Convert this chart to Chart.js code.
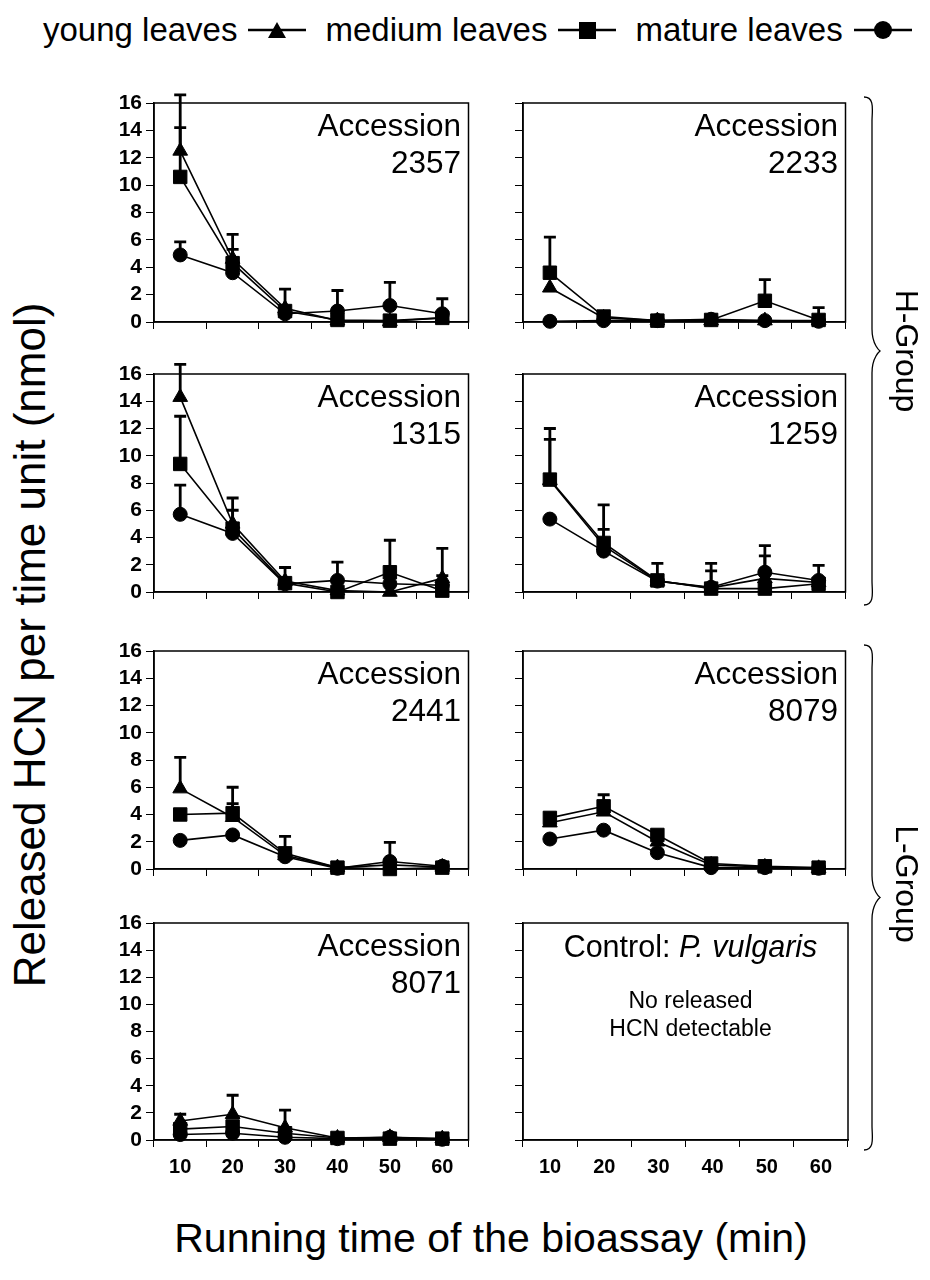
<!DOCTYPE html>
<html><head><meta charset="utf-8">
<script src="https://cdn.jsdelivr.net/npm/chart.js@4.4.0/dist/chart.umd.min.js"></script>
<style>
body{margin:0;background:#fff;}
#root{position:relative;width:930px;height:1280px;overflow:hidden;background:#fff;font-family:"Liberation Sans",Arial,sans-serif;color:#000;}
.abs{position:absolute;}
.acc{position:absolute;font-size:31.5px;text-align:right;line-height:37px;}
.legend{position:absolute;left:43px;top:10px;height:40px;font-size:33px;display:flex;align-items:center;white-space:nowrap;}
.legend svg{margin:0 19px 0 11px;}
.rot{position:absolute;white-space:nowrap;transform-origin:center center;}
</style></head>
<body><div id="root"></div>
<script>
// ---------- data ----------
const times = ['10','20','30','40','50','60'];
const yTicks = [0, 2, 4, 6, 8, 10, 12, 14, 16];

const acc2357Young  = [12.5, 4.6, 1.0, 0.1, 0.05, 0.3];
const acc2357Medium = [10.6, 4.3, 0.8, 0.15, 0.1, 0.3];
const acc2357Mature = [4.9, 3.6, 0.6, 0.8, 1.2, 0.6];
const acc2357YoungErr  = [4.1, 1.8, 0, 0, 0, 0];
const acc2357MediumErr = [3.6, 1.0, 1.6, 0, 0, 0];
const acc2357MatureErr = [0.95, 0, 0, 1.5, 1.7, 1.1];

const acc2233Young  = [2.5, 0.3, 0.1, 0.1, 0.1, 0.1];
const acc2233Medium = [3.6, 0.4, 0.1, 0.15, 1.55, 0.15];
const acc2233Mature = [0.05, 0.1, 0.1, 0.2, 0.1, 0.05];
const acc2233YoungErr  = [0, 0, 0, 0, 0, 0];
const acc2233MediumErr = [2.6, 0, 0, 0, 1.55, 0.9];
const acc2233MatureErr = [0, 0, 0, 0, 0, 0];

const acc1315Young  = [14.3, 5.0, 0.8, 0.1, 0.0, 1.0];
const acc1315Medium = [9.4, 4.65, 0.65, 0.0, 1.45, 0.1];
const acc1315Mature = [5.7, 4.3, 0.6, 0.85, 0.6, 0.5];
const acc1315YoungErr  = [2.4, 1.9, 0, 0, 0, 2.2];
const acc1315MediumErr = [3.5, 1.35, 1.15, 0, 2.35, 0];
const acc1315MatureErr = [2.15, 0, 0, 1.35, 0, 0.7];

const acc1259Young  = [8.2, 3.4, 0.8, 0.3, 1.0, 0.7];
const acc1259Medium = [8.25, 3.6, 0.85, 0.25, 0.25, 0.6];
const acc1259Mature = [5.35, 3.0, 0.8, 0.35, 1.45, 0.85];
const acc1259YoungErr  = [3.8, 1.2, 0, 1.8, 1.65, 0];
const acc1259MediumErr = [2.95, 2.8, 1.25, 0, 0, 0];
const acc1259MatureErr = [0, 0, 0, 1.2, 1.95, 1.1];

const acc2441Young  = [5.9, 3.8, 1.0, 0.1, 0.3, 0.15];
const acc2441Medium = [4.0, 4.1, 1.15, 0.1, 0.0, 0.1];
const acc2441Mature = [2.1, 2.5, 0.9, 0.05, 0.55, 0.2];
const acc2441YoungErr  = [2.3, 1.0, 0, 0, 0, 0];
const acc2441MediumErr = [0, 1.9, 1.25, 0, 0, 0];
const acc2441MatureErr = [0, 0, 0, 0, 1.4, 0];

const acc8079Young  = [3.4, 4.2, 2.0, 0.3, 0.15, 0.05];
const acc8079Medium = [3.75, 4.6, 2.5, 0.4, 0.2, 0.1];
const acc8079Mature = [2.2, 2.85, 1.2, 0.1, 0.1, 0.05];
const acc8079YoungErr  = [0, 0, 0, 0, 0, 0];
const acc8079MediumErr = [0, 0.85, 0, 0, 0, 0];
const acc8079MatureErr = [0, 0, 0, 0, 0, 0];

const acc8071Young  = [1.4, 1.9, 0.9, 0.15, 0.2, 0.1];
const acc8071Medium = [0.8, 1.0, 0.5, 0.15, 0.1, 0.1];
const acc8071Mature = [0.4, 0.5, 0.2, 0.1, 0.2, 0.05];
const acc8071YoungErr  = [0.5, 1.4, 1.3, 0, 0, 0];
const acc8071MediumErr = [0, 0, 0, 0, 0, 0];
const acc8071MatureErr = [0, 0, 0, 0, 0, 0];

const seriesNames = ['young leaves', 'medium leaves', 'mature leaves'];

// ---------- layout ----------
const root = document.getElementById('root');
const cols = [{left:154, w:317}, {left:523, w:325}];
const rows = [{top:103, h:219}, {top:374, h:218}, {top:651, h:218}, {top:923, h:217}];

const panels = [
  {r:0,c:0,label:['Accession','2357'],d:[acc2357Young,acc2357Medium,acc2357Mature],e:[acc2357YoungErr,acc2357MediumErr,acc2357MatureErr]},
  {r:0,c:1,label:['Accession','2233'],d:[acc2233Young,acc2233Medium,acc2233Mature],e:[acc2233YoungErr,acc2233MediumErr,acc2233MatureErr]},
  {r:1,c:0,label:['Accession','1315'],d:[acc1315Young,acc1315Medium,acc1315Mature],e:[acc1315YoungErr,acc1315MediumErr,acc1315MatureErr]},
  {r:1,c:1,label:['Accession','1259'],d:[acc1259Young,acc1259Medium,acc1259Mature],e:[acc1259YoungErr,acc1259MediumErr,acc1259MatureErr]},
  {r:2,c:0,label:['Accession','2441'],d:[acc2441Young,acc2441Medium,acc2441Mature],e:[acc2441YoungErr,acc2441MediumErr,acc2441MatureErr]},
  {r:2,c:1,label:['Accession','8079'],d:[acc8079Young,acc8079Medium,acc8079Mature],e:[acc8079YoungErr,acc8079MediumErr,acc8079MatureErr]},
  {r:3,c:0,label:['Accession','8071'],d:[acc8071Young,acc8071Medium,acc8071Mature],e:[acc8071YoungErr,acc8071MediumErr,acc8071MatureErr]},
  {r:3,c:1,control:true,d:[],e:[]}
];

const styles = [
  {pointStyle:'triangle', radius:8.5},
  {pointStyle:'rect', radius:9.5},
  {pointStyle:'circle', radius:7}
];

const frameAndErr = {
  id:'frameAndErr',
  beforeDatasetsDraw(chart){
    const {ctx, chartArea:a, scales:{y}} = chart;
    ctx.save();
    ctx.strokeStyle='#000'; ctx.lineWidth=1.5;
    ctx.strokeRect(a.left, a.top, a.right-a.left, a.bottom-a.top);
    ctx.lineWidth=2.8; ctx.lineCap='butt';
    chart.data.datasets.forEach((ds,i)=>{
      const meta = chart.getDatasetMeta(i);
      (ds.errors||[]).forEach((e,j)=>{
        if(!e) return;
        const p = meta.data[j]; if(!p) return;
        const y0 = y.getPixelForValue(ds.data[j]);
        const y1 = y.getPixelForValue(ds.data[j]+e);
        ctx.beginPath();
        ctx.moveTo(p.x, y0); ctx.lineTo(p.x, y1);
        ctx.moveTo(p.x-6, y1); ctx.lineTo(p.x+6, y1);
        ctx.stroke();
      });
    });
    ctx.restore();
  }
};

const PADL = 56, PADT = 18, PADR = 8;
panels.forEach(pn=>{
  const col = cols[pn.c], row = rows[pn.r];
  const bottomRow = pn.r === 3;
  const xh = bottomRow ? 50 : 20;
  const cv = document.createElement('canvas');
  const W = col.w + PADL + PADR, H = row.h + PADT + xh;
  cv.width = W; cv.height = H;
  cv.style.cssText = `position:absolute;left:${col.left-PADL}px;top:${row.top-PADT}px;width:${W}px;height:${H}px;`;
  root.appendChild(cv);
  const datasets = pn.d.map((arr,i)=>({
    label: seriesNames[i],
    data: arr,
    errors: pn.e[i],
    borderColor:'#000', backgroundColor:'#000',
    borderWidth:1.6,
    pointStyle: styles[i].pointStyle,
    pointRadius: styles[i].radius,
    pointBorderWidth:1,
    pointBackgroundColor:'#000', pointBorderColor:'#000',
    tension:0, clip:false
  }));
  new Chart(cv, {
    type:'line',
    data:{labels:times, datasets},
    plugins:[frameAndErr],
    options:{
      responsive:false, animation:false, devicePixelRatio:1,
      layout:{padding:{top:PADT,right:PADR,left:0,bottom:0}},
      plugins:{legend:{display:false}, tooltip:{enabled:false}},
      scales:{
        x:{
          type:'category', offset:true,
          grid:{offset:true, drawOnChartArea:false, drawTicks:true, tickLength:7, color:'#000', lineWidth:1},
          border:{display:true, color:'#000', width:1.5},
          ticks:{display:bottomRow, autoSkip:false, maxRotation:0, color:'#000', padding:8, font:{family:'"Liberation Sans", Arial', size:20, weight:'bold'}},
          afterFit(s){ s.height = xh; }
        },
        y:{
          min:yTicks[0], max:yTicks[yTicks.length-1],
          grid:{drawOnChartArea:false, drawTicks:true, tickLength:8, color:'#000', lineWidth:1},
          border:{display:true, color:'#000', width:1.5},
          ticks:{display:pn.c===0, autoSkip:false, color:'#000', padding:4, font:{family:'"Liberation Sans", Arial', size:21, weight:'bold', lineHeight:1}},
          afterBuildTicks(s){ s.ticks = yTicks.map(v=>({value:v})); },
          afterFit(s){ s.width = PADL; }
        }
      }
    }
  });
  if(pn.label){
    const d = document.createElement('div');
    d.className='acc';
    d.style.right = (930 - (col.left + col.w - 10)) + 'px';
    d.style.top = (row.top + 4) + 'px';
    d.innerHTML = pn.label.join('<br>');
    root.appendChild(d);
  }
  if(pn.control){
    const d = document.createElement('div');
    d.className='abs';
    d.style.cssText = `left:${col.left}px;width:${col.w+10}px;top:${row.top+5}px;text-align:center;font-size:30.5px;line-height:36px;`;
    d.innerHTML = 'Control: <i>P. vulgaris</i>';
    root.appendChild(d);
    const d2 = document.createElement('div');
    d2.className='abs';
    d2.style.cssText = `left:${col.left}px;width:${col.w+10}px;top:${row.top+63}px;text-align:center;font-size:23px;line-height:28px;`;
    d2.innerHTML = 'No released<br>HCN detectable';
    root.appendChild(d2);
  }
});

// ---------- legend ----------
const mk = {
  triangle:'<polygon points="29,4 38,20 20,20" fill="#000"/>',
  rect:'<rect x="21" y="4" width="17" height="17" fill="#000"/>',
  circle:'<circle cx="29" cy="12" r="9" fill="#000"/>'
};
const lg = document.createElement('div');
lg.className='legend';
lg.innerHTML = seriesNames.map((n,i)=>`<span>${n}</span><svg width="58" height="24"><line x1="0" y1="12" x2="58" y2="12" stroke="#000" stroke-width="2.5"/>${mk[styles[i].pointStyle]}</svg>`).join('');
root.appendChild(lg);

// ---------- axis titles ----------
const yt = document.createElement('div');
yt.className='rot';
yt.style.cssText += 'font-size:44px;left:30px;top:645px;transform:translate(-50%,-50%) rotate(-90deg);';
yt.textContent = 'Released HCN per time unit (nmol)';
root.appendChild(yt);

const xt = document.createElement('div');
xt.className='rot';
xt.style.cssText += 'font-size:41px;left:491px;top:1238px;transform:translate(-50%,-50%);';
xt.textContent = 'Running time of the bioassay (min)';
root.appendChild(xt);

// ---------- group braces ----------
function brace(x, y1, y2){
  const m = (y1+y2)/2, w = 16;
  return `<path d="M${x},${y1} C${x+w*0.7},${y1} ${x+w*0.5},${y1+14} ${x+w*0.5},${y1+24} L${x+w*0.5},${m-22} C${x+w*0.5},${m-6} ${x+w},${m} ${x+w},${m} C${x+w},${m} ${x+w*0.5},${m+6} ${x+w*0.5},${m+22} L${x+w*0.5},${y2-24} C${x+w*0.5},${y2-14} ${x+w*0.7},${y2} ${x},${y2}" fill="none" stroke="#000" stroke-width="1.3"/>`;
}
const svg = document.createElementNS('http://www.w3.org/2000/svg','svg');
svg.setAttribute('width','930'); svg.setAttribute('height','1280');
svg.style.cssText='position:absolute;left:0;top:0;pointer-events:none;';
svg.innerHTML = brace(864, 97, 605) + brace(864, 645, 1150);
root.appendChild(svg);

[['H-Group', 351], ['L-Group', 884]].forEach(([t,cy])=>{
  const g = document.createElement('div');
  g.className='rot';
  g.style.cssText += `font-size:32px;left:906px;top:${cy}px;transform:translate(-50%,-50%) rotate(90deg);`;
  g.textContent = t;
  root.appendChild(g);
});
</script>
</body></html>
